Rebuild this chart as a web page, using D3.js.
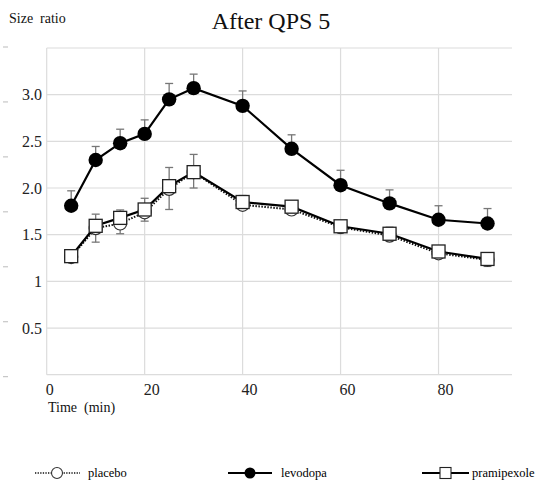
<!DOCTYPE html>
<html>
<head>
<meta charset="utf-8">
<script src="https://cdn.jsdelivr.net/npm/d3@7"></script>
<style>
  body { margin: 0; background: #fff; }
  svg text { font-family: "Liberation Serif", "Times New Roman", serif; }
</style>
</head>
<body>
<script>
// data
const times = [5, 10, 15, 20, 25, 30, 40, 50, 60, 70, 80, 90];
const placebo = [1.26, 1.57, 1.62, 1.74, 1.99, 2.17, 1.82, 1.77, 1.58, 1.49, 1.30, 1.23];
const placeboLow = [1.22, 1.42, 1.51, 1.645, 1.77, 2.0, 1.79, 1.74, 1.56, 1.47, 1.28, 1.16];
const levodopa = [1.81, 2.30, 2.48, 2.58, 2.95, 3.07, 2.88, 2.42, 2.03, 1.835, 1.66, 1.62];
const levodopaHigh = [1.97, 2.445, 2.63, 2.73, 3.12, 3.22, 3.04, 2.57, 2.19, 1.98, 1.81, 1.78];
const pramipexole = [1.27, 1.595, 1.68, 1.77, 2.02, 2.17, 1.85, 1.80, 1.59, 1.51, 1.32, 1.24];
const pramipexoleHigh = [1.30, 1.72, 1.765, 1.89, 2.22, 2.36, 1.92, 1.84, 1.62, 1.58, 1.35, 1.27];

const xTicks = [0, 20, 40, 60, 80];
const yTicks = [0.5, 1, 1.5, 2, 2.5, 3];
const yTickLabels = ["0.5", "1", "1.5", "2.0", "2.5", "3.0"];
const yGrid = [0, 0.5, 1, 1.5, 2, 2.5, 3, 3.5];
const ghostTicks = [0, 1, 2, 3, 4, 5, 6];

const width = 535;
const height = 483;
const serif = "Liberation Serif, Times New Roman, serif";

const svg = d3.select("body").append("svg")
  .attr("width", width)
  .attr("height", height)
  .attr("font-family", serif);

const x = d3.scaleLinear().domain([0, 95]).range([46.7, 512]);
const y = d3.scaleLinear().domain([0, 3.5]).range([374.7, 48]);
const ghost = d3.scaleLinear().domain([0, 6]).range([376.7, 47]);

// stray little ticks at the far left
svg.append("g").selectAll("line")
  .data(ghostTicks).enter().append("line")
  .attr("x1", 3).attr("x2", 8)
  .attr("y1", d => ghost(d)).attr("y2", d => ghost(d))
  .attr("stroke", "#bbb").attr("stroke-width", 1);

// grid
svg.append("g").selectAll("line")
  .data(yGrid).enter().append("line")
  .attr("x1", x(0)).attr("x2", x(95))
  .attr("y1", d => y(d)).attr("y2", d => y(d))
  .attr("stroke", "#dcdcdc").attr("stroke-width", 1.2);

svg.append("g").selectAll("line")
  .data(xTicks).enter().append("line")
  .attr("x1", d => x(d)).attr("x2", d => x(d))
  .attr("y1", y(0)).attr("y2", y(3.5))
  .attr("stroke", "#dcdcdc").attr("stroke-width", 1.2);

// tick labels
svg.append("g").selectAll("text")
  .data(yTicks).enter().append("text")
  .attr("x", 42).attr("y", d => y(d)).attr("dy", "0.35em")
  .attr("text-anchor", "end")
  .attr("font-family", serif)
  .attr("font-size", 16).attr("fill", "#222")
  .text((d, i) => yTickLabels[i]);

svg.append("g").selectAll("text")
  .data(xTicks).enter().append("text")
  .attr("x", d => x(d) - 1).attr("y", 395)
  .attr("font-family", serif)
  .attr("font-size", 16).attr("fill", "#222")
  .text(d => d);

svg.append("text").attr("x", 48).attr("y", 412)
  .attr("font-size", 14).attr("fill", "#111")
  .style("white-space", "pre")
  .text("Time  (min)");

svg.append("text").attr("x", 9).attr("y", 22.5)
  .attr("font-size", 14).attr("fill", "#111")
  .style("white-space", "pre")
  .text("Size  ratio");

svg.append("text").attr("x", 271).attr("y", 29)
  .attr("text-anchor", "middle")
  .attr("font-size", 24).attr("fill", "#111")
  .text("After QPS 5");

// error bars
function errorBars(vals, ends) {
  const g = svg.append("g").attr("stroke", "#777").attr("stroke-width", 1.3);
  g.selectAll("line.v").data(times).enter().append("line")
    .attr("x1", d => x(d)).attr("x2", d => x(d))
    .attr("y1", (d, i) => y(vals[i])).attr("y2", (d, i) => y(ends[i]));
  g.selectAll("line.c").data(times).enter().append("line")
    .attr("x1", d => x(d) - 4).attr("x2", d => x(d) + 4)
    .attr("y1", (d, i) => y(ends[i])).attr("y2", (d, i) => y(ends[i]));
}
errorBars(placebo, placeboLow);
errorBars(levodopa, levodopaHigh);
errorBars(pramipexole, pramipexoleHigh);

const line = vals => d3.line()
  .x(d => x(d))
  .y((d, i) => y(vals[i]))(times);

// placebo
svg.append("path").attr("d", line(placebo))
  .attr("fill", "none").attr("stroke", "#111")
  .attr("stroke-width", 2).attr("stroke-dasharray", "1.5,1.5");
svg.append("g").selectAll("circle")
  .data(times).enter().append("circle")
  .attr("cx", d => x(d)).attr("cy", (d, i) => y(placebo[i]))
  .attr("r", 6.5).attr("fill", "#fff").attr("stroke", "#333").attr("stroke-width", 1.2);

// levodopa
svg.append("path").attr("d", line(levodopa))
  .attr("fill", "none").attr("stroke", "#000").attr("stroke-width", 2.2);
svg.append("g").selectAll("circle")
  .data(times).enter().append("circle")
  .attr("cx", d => x(d)).attr("cy", (d, i) => y(levodopa[i]))
  .attr("r", 7.2).attr("fill", "#000");

// pramipexole
svg.append("path").attr("d", line(pramipexole))
  .attr("fill", "none").attr("stroke", "#000").attr("stroke-width", 2.2);
svg.append("g").selectAll("rect")
  .data(times).enter().append("rect")
  .attr("x", d => x(d) - 6.5).attr("y", (d, i) => y(pramipexole[i]) - 6.5)
  .attr("width", 13).attr("height", 13)
  .attr("fill", "#fff").attr("stroke", "#222").attr("stroke-width", 1.3);

// legend
const legendY = 473;
const leg = svg.append("g");
leg.append("line").attr("x1", 35).attr("x2", 80).attr("y1", legendY).attr("y2", legendY)
  .attr("stroke", "#111").attr("stroke-width", 1.3).attr("stroke-dasharray", "1.3,1.3");
leg.append("circle").attr("cx", 57).attr("cy", legendY).attr("r", 5.5)
  .attr("fill", "#fff").attr("stroke", "#333").attr("stroke-width", 1.1);
leg.append("text").attr("x", 88).attr("y", legendY + 4).attr("font-size", 12.5).text("placebo");

leg.append("line").attr("x1", 228).attr("x2", 272).attr("y1", legendY).attr("y2", legendY)
  .attr("stroke", "#000").attr("stroke-width", 1.8);
leg.append("circle").attr("cx", 250).attr("cy", legendY).attr("r", 5.5).attr("fill", "#000");
leg.append("text").attr("x", 281).attr("y", legendY + 4).attr("font-size", 12.5).text("levodopa");

leg.append("line").attr("x1", 422).attr("x2", 469).attr("y1", legendY).attr("y2", legendY)
  .attr("stroke", "#000").attr("stroke-width", 1.8);
leg.append("rect").attr("x", 440).attr("y", legendY - 5.5).attr("width", 11).attr("height", 11)
  .attr("fill", "#fff").attr("stroke", "#222").attr("stroke-width", 1.1);
leg.append("text").attr("x", 472).attr("y", legendY + 4).attr("font-size", 12.5).text("pramipexole");
</script>
</body>
</html>
